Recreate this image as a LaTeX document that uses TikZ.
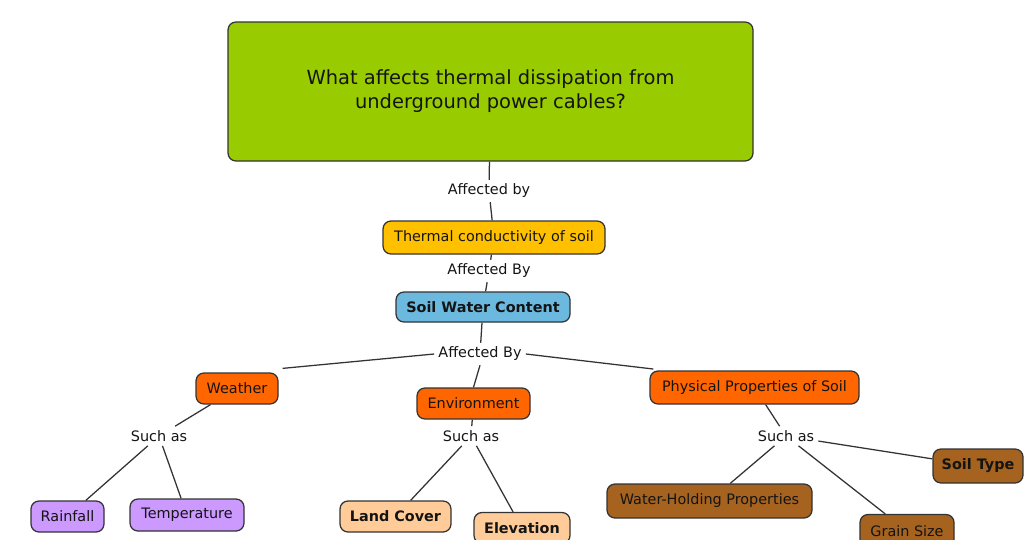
\documentclass[tikz,border=0pt]{standalone}
\usepackage{fontspec}
\setmainfont{DejaVu Sans}
\definecolor{cgreen}{HTML}{99CC00}
\definecolor{cgold}{HTML}{FFC000}
\definecolor{cblue}{HTML}{6CB9E0}
\definecolor{corange}{HTML}{FF6600}
\definecolor{cpurple}{HTML}{CC99FF}
\definecolor{cpeach}{HTML}{FFCC99}
\definecolor{cbrown}{HTML}{A5631F}
\definecolor{ctext}{HTML}{141414}
\definecolor{cline}{HTML}{333333}
\def\p{0.75pt}
\tikzset{
  box/.style={draw=cline, line width=0.95pt, rounded corners=6pt, text=ctext,
    font=\fontsize{10.8}{13}\selectfont, inner sep=0pt},
  lbl/.style={inner sep=3pt, text=ctext, font=\fontsize{10.8}{13}\selectfont},
  conn/.style={draw=cline, line width=0.95pt},
}
\begin{document}
\begin{tikzpicture}[x=0.75pt,y=-0.75pt]
\useasboundingbox (0,0) rectangle (1024,539);
% nodes
\node[box, fill=cgreen, minimum width=525*\p, minimum height=139*\p, align=center,
  font=\fontsize{14.6}{18}\selectfont] (q) at (490.5,91.5)
  {What affects thermal dissipation from\\underground power cables?};
\node[box, fill=cgold, minimum width=222*\p, minimum height=33*\p] (tc) at (494,237.5) {Thermal conductivity of soil};
\node[box, fill=cblue, minimum width=174*\p, minimum height=30*\p, font=\fontsize{10.8}{13}\selectfont\bfseries] (swc) at (483,307) {Soil Water Content};
\node[box, fill=corange, minimum width=82*\p, minimum height=31*\p] (w) at (237,388.5) {Weather};
\node[box, fill=corange, minimum width=113*\p, minimum height=31*\p] (env) at (473.5,403.5) {Environment};
\node[box, fill=corange, minimum width=209*\p, minimum height=33*\p] (phys) at (754.5,387.5) {Physical Properties of Soil};
\node[box, fill=cpurple, minimum width=73*\p, minimum height=31*\p] (rain) at (67.5,516.5) {Rainfall};
\node[box, fill=cpurple, minimum width=114*\p, minimum height=32*\p] (temp) at (187,515) {Temperature};
\node[box, fill=cpeach, minimum width=111*\p, minimum height=31*\p, font=\fontsize{10.8}{13}\selectfont\bfseries] (land) at (395.5,516.5) {Land Cover};
\node[box, fill=cpeach, minimum width=96*\p, minimum height=31*\p, font=\fontsize{10.8}{13}\selectfont\bfseries] (elev) at (522,528) {Elevation};
\node[box, fill=cbrown, minimum width=205*\p, minimum height=34*\p] (whp) at (709.5,501) {Water-Holding Properties};
\node[box, fill=cbrown, minimum width=94*\p, minimum height=33*\p] (grain) at (907,531) {Grain Size};
\node[box, fill=cbrown, minimum width=90*\p, minimum height=34*\p, font=\fontsize{10.8}{13}\selectfont\bfseries] (soil) at (978,466) {Soil Type};
% labels
\node[lbl] (a1) at (489,191) {Affected by};
\node[lbl] (a2) at (489,271) {Affected By};
\node[lbl] (a3) at (480,354) {Affected By};
\node[lbl] (s1) at (159,436) {Such as};
\node[lbl] (s2) at (471,436) {Such as};
\node[lbl] (s3) at (786,436) {Such as};
% connectors
\draw[conn] (q) -- (a1);
\draw[conn] (a1) -- (tc);
\draw[conn] (tc) -- (a2);
\draw[conn] (a2) -- (swc);
\draw[conn] (swc) -- (a3);
\draw[conn] (a3.west) -- ([xshift=3pt,yshift=3pt]w.north east);
\draw[conn] (a3.south) -- (env.north);
\draw[conn] (a3.east) -- ([xshift=3pt,yshift=1pt]phys.north west);
\draw[conn] (w) -- (s1);
\draw[conn] (s1) -- (rain);
\draw[conn] (s1) -- (temp);
\draw[conn] (env) -- (s2);
\draw[conn] (s2) -- (land);
\draw[conn] (s2) -- (elev);
\draw[conn] (phys) -- (s3);
\draw[conn] (s3) -- (whp);
\draw[conn] (s3) -- (grain);
\draw[conn] (s3) -- (soil);
\end{tikzpicture}
\end{document}
